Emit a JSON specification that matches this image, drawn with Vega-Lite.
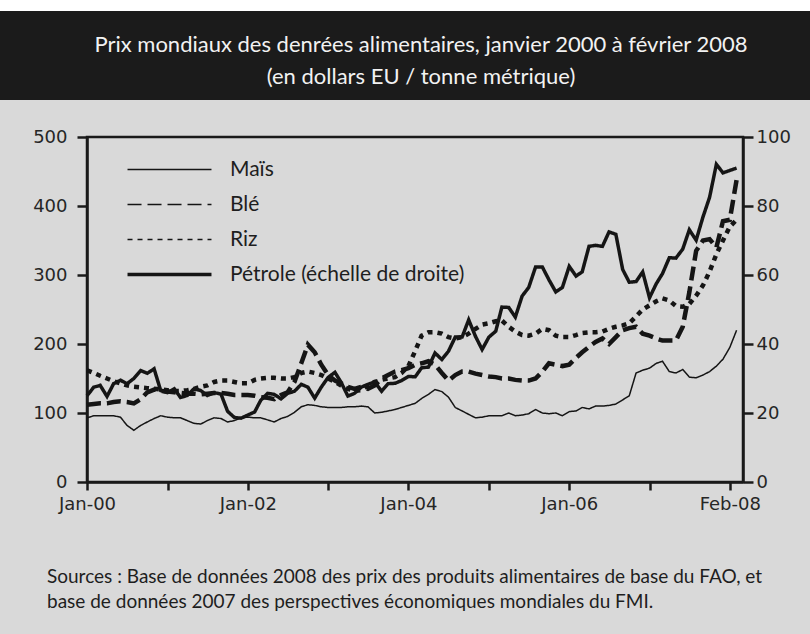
{
  "$schema": "https://vega.github.io/schema/vega-lite/v6.json",
  "background": "#d9d9d9",
  "padding": {"left": 0, "top": 0, "right": 0, "bottom": 22},
  "config": {
    "view": {"stroke": null},
    "font": "DejaVu Sans",
    "axis": {
      "domainColor": "#1a1a1a", "domainWidth": 2.5, "tickColor": "#1a1a1a", "tickWidth": 2.5,
      "labelFont": "DejaVu Sans", "labelFontSize": 18, "labelColor": "#262626", "grid": false
    }
  },
  "spacing": 26,
  "vconcat": [
    {
      "spacing": 0,
      "vconcat": [
        {"width": 810, "height": 11, "view": {"fill": "white", "stroke": null}, "data": {"values": []}, "mark": "point", "encoding": {}},
        {
          "width": 810, "height": 89,
          "view": {"fill": "#1b1b1b", "stroke": null},
          "data": {"values": [{}]},
          "mark": {"type": "text", "font": "Lato", "fontSize": 22, "lineHeight": 32, "color": "#f2f2f2", "baseline": "middle", "align": "center", "dy": -11, "dx": 16},
          "encoding": {"text": {"value": ["Prix mondiaux des denrées alimentaires, janvier 2000 à février 2008", "(en dollars EU / tonne métrique)"]}}
        }
      ]
    },
    {
      "spacing": 0,
      "hconcat": [
        {"width": 24, "height": 10, "data": {"values": []}, "mark": "point", "encoding": {}},
        {
          "width": 656, "height": 345,
          "view": {"stroke": "#1a1a1a", "strokeWidth": 2.5},
          "title": {
            "text": ["Sources : Base de données 2008 des prix des produits alimentaires de base du FAO, et", "base de données 2007 des perspectives économiques mondiales du FMI."],
            "orient": "bottom", "anchor": "start", "frame": "bounds", "offset": 55, "dx": 21,
            "font": "Lato", "fontSize": 19, "fontWeight": "normal", "lineHeight": 25, "color": "#1e1e1e", "baseline": "top"
          },
          "data": {"values": [
            {"mois":"2000-01","Maïs":93,"Blé":112,"Riz":162,"Pétrole":25.0},
            {"mois":"2000-02","Maïs":96,"Blé":113,"Riz":158,"Pétrole":27.5},
            {"mois":"2000-03","Maïs":96,"Blé":114,"Riz":154,"Pétrole":28.0},
            {"mois":"2000-04","Maïs":96,"Blé":114,"Riz":150,"Pétrole":24.8},
            {"mois":"2000-05","Maïs":96,"Blé":116,"Riz":146,"Pétrole":28.5},
            {"mois":"2000-06","Maïs":94,"Blé":117,"Riz":143,"Pétrole":29.5},
            {"mois":"2000-07","Maïs":82,"Blé":116,"Riz":140,"Pétrole":28.5},
            {"mois":"2000-08","Maïs":75,"Blé":114,"Riz":138,"Pétrole":30.0},
            {"mois":"2000-09","Maïs":82,"Blé":120,"Riz":137,"Pétrole":32.3},
            {"mois":"2000-10","Maïs":87,"Blé":130,"Riz":136,"Pétrole":31.5},
            {"mois":"2000-11","Maïs":92,"Blé":134,"Riz":135,"Pétrole":32.8},
            {"mois":"2000-12","Maïs":96,"Blé":132,"Riz":134,"Pétrole":26.5},
            {"mois":"2001-01","Maïs":94,"Blé":131,"Riz":133,"Pétrole":25.9},
            {"mois":"2001-02","Maïs":93,"Blé":130,"Riz":132,"Pétrole":27.0},
            {"mois":"2001-03","Maïs":93,"Blé":129,"Riz":132,"Pétrole":24.5},
            {"mois":"2001-04","Maïs":89,"Blé":128,"Riz":133,"Pétrole":25.1},
            {"mois":"2001-05","Maïs":85,"Blé":128,"Riz":135,"Pétrole":27.0},
            {"mois":"2001-06","Maïs":84,"Blé":127,"Riz":138,"Pétrole":26.5},
            {"mois":"2001-07","Maïs":89,"Blé":128,"Riz":140,"Pétrole":25.1},
            {"mois":"2001-08","Maïs":93,"Blé":129,"Riz":145,"Pétrole":25.9},
            {"mois":"2001-09","Maïs":92,"Blé":129,"Riz":147,"Pétrole":25.5},
            {"mois":"2001-10","Maïs":87,"Blé":128,"Riz":147,"Pétrole":20.5},
            {"mois":"2001-11","Maïs":89,"Blé":126,"Riz":145,"Pétrole":18.7},
            {"mois":"2001-12","Maïs":93,"Blé":126,"Riz":143,"Pétrole":18.5},
            {"mois":"2002-01","Maïs":94,"Blé":126,"Riz":143,"Pétrole":19.4},
            {"mois":"2002-02","Maïs":93,"Blé":125,"Riz":148,"Pétrole":20.3},
            {"mois":"2002-03","Maïs":93,"Blé":123,"Riz":150,"Pétrole":23.7},
            {"mois":"2002-04","Maïs":90,"Blé":122,"Riz":151,"Pétrole":25.7},
            {"mois":"2002-05","Maïs":87,"Blé":120,"Riz":151,"Pétrole":25.4},
            {"mois":"2002-06","Maïs":92,"Blé":126,"Riz":150,"Pétrole":24.1},
            {"mois":"2002-07","Maïs":95,"Blé":130,"Riz":150,"Pétrole":25.7},
            {"mois":"2002-08","Maïs":101,"Blé":145,"Riz":152,"Pétrole":26.3},
            {"mois":"2002-09","Maïs":109,"Blé":172,"Riz":158,"Pétrole":28.3},
            {"mois":"2002-10","Maïs":112,"Blé":199,"Riz":160,"Pétrole":27.5},
            {"mois":"2002-11","Maïs":111,"Blé":188,"Riz":158,"Pétrole":24.3},
            {"mois":"2002-12","Maïs":109,"Blé":170,"Riz":155,"Pétrole":27.5},
            {"mois":"2003-01","Maïs":108,"Blé":155,"Riz":150,"Pétrole":30.3},
            {"mois":"2003-02","Maïs":108,"Blé":147,"Riz":145,"Pétrole":31.8},
            {"mois":"2003-03","Maïs":108,"Blé":143,"Riz":140,"Pétrole":28.9},
            {"mois":"2003-04","Maïs":109,"Blé":138,"Riz":135,"Pétrole":24.9},
            {"mois":"2003-05","Maïs":109,"Blé":135,"Riz":132,"Pétrole":25.7},
            {"mois":"2003-06","Maïs":110,"Blé":138,"Riz":133,"Pétrole":27.5},
            {"mois":"2003-07","Maïs":109,"Blé":135,"Riz":140,"Pétrole":28.3},
            {"mois":"2003-08","Maïs":100,"Blé":140,"Riz":145,"Pétrole":29.0},
            {"mois":"2003-09","Maïs":101,"Blé":150,"Riz":148,"Pétrole":26.3},
            {"mois":"2003-10","Maïs":103,"Blé":155,"Riz":150,"Pétrole":28.5},
            {"mois":"2003-11","Maïs":105,"Blé":160,"Riz":152,"Pétrole":28.6},
            {"mois":"2003-12","Maïs":108,"Blé":162,"Riz":158,"Pétrole":29.4},
            {"mois":"2004-01","Maïs":111,"Blé":165,"Riz":168,"Pétrole":30.6},
            {"mois":"2004-02","Maïs":114,"Blé":170,"Riz":190,"Pétrole":30.5},
            {"mois":"2004-03","Maïs":121,"Blé":172,"Riz":212,"Pétrole":33.1},
            {"mois":"2004-04","Maïs":127,"Blé":175,"Riz":217,"Pétrole":33.3},
            {"mois":"2004-05","Maïs":134,"Blé":170,"Riz":217,"Pétrole":37.4},
            {"mois":"2004-06","Maïs":131,"Blé":158,"Riz":215,"Pétrole":35.5},
            {"mois":"2004-07","Maïs":123,"Blé":147,"Riz":210,"Pétrole":37.9},
            {"mois":"2004-08","Maïs":108,"Blé":155,"Riz":208,"Pétrole":42.0},
            {"mois":"2004-09","Maïs":103,"Blé":160,"Riz":210,"Pétrole":42.0},
            {"mois":"2004-10","Maïs":98,"Blé":160,"Riz":215,"Pétrole":47.0},
            {"mois":"2004-11","Maïs":93,"Blé":157,"Riz":222,"Pétrole":42.2},
            {"mois":"2004-12","Maïs":94,"Blé":155,"Riz":228,"Pétrole":38.4},
            {"mois":"2005-01","Maïs":96,"Blé":153,"Riz":230,"Pétrole":42.0},
            {"mois":"2005-02","Maïs":96,"Blé":152,"Riz":233,"Pétrole":43.7},
            {"mois":"2005-03","Maïs":96,"Blé":150,"Riz":234,"Pétrole":50.7},
            {"mois":"2005-04","Maïs":100,"Blé":150,"Riz":225,"Pétrole":50.6},
            {"mois":"2005-05","Maïs":96,"Blé":148,"Riz":218,"Pétrole":47.8},
            {"mois":"2005-06","Maïs":97,"Blé":147,"Riz":213,"Pétrole":53.9},
            {"mois":"2005-07","Maïs":99,"Blé":147,"Riz":212,"Pétrole":56.4},
            {"mois":"2005-08","Maïs":105,"Blé":150,"Riz":215,"Pétrole":62.3},
            {"mois":"2005-09","Maïs":100,"Blé":160,"Riz":222,"Pétrole":62.3},
            {"mois":"2005-10","Maïs":99,"Blé":172,"Riz":220,"Pétrole":58.6},
            {"mois":"2005-11","Maïs":100,"Blé":170,"Riz":212,"Pétrole":55.1},
            {"mois":"2005-12","Maïs":96,"Blé":168,"Riz":210,"Pétrole":56.4},
            {"mois":"2006-01","Maïs":102,"Blé":170,"Riz":210,"Pétrole":62.5},
            {"mois":"2006-02","Maïs":103,"Blé":180,"Riz":213,"Pétrole":59.7},
            {"mois":"2006-03","Maïs":108,"Blé":188,"Riz":216,"Pétrole":60.9},
            {"mois":"2006-04","Maïs":106,"Blé":196,"Riz":217,"Pétrole":68.3},
            {"mois":"2006-05","Maïs":110,"Blé":203,"Riz":217,"Pétrole":68.6},
            {"mois":"2006-06","Maïs":110,"Blé":208,"Riz":218,"Pétrole":68.3},
            {"mois":"2006-07","Maïs":111,"Blé":200,"Riz":222,"Pétrole":72.5},
            {"mois":"2006-08","Maïs":113,"Blé":210,"Riz":225,"Pétrole":71.8},
            {"mois":"2006-09","Maïs":119,"Blé":220,"Riz":227,"Pétrole":61.6},
            {"mois":"2006-10","Maïs":125,"Blé":223,"Riz":230,"Pétrole":57.9},
            {"mois":"2006-11","Maïs":158,"Blé":225,"Riz":240,"Pétrole":58.1},
            {"mois":"2006-12","Maïs":162,"Blé":215,"Riz":250,"Pétrole":60.9},
            {"mois":"2007-01","Maïs":165,"Blé":212,"Riz":256,"Pétrole":53.4},
            {"mois":"2007-02","Maïs":172,"Blé":208,"Riz":262,"Pétrole":57.5},
            {"mois":"2007-03","Maïs":175,"Blé":205,"Riz":266,"Pétrole":60.4},
            {"mois":"2007-04","Maïs":160,"Blé":205,"Riz":263,"Pétrole":65.0},
            {"mois":"2007-05","Maïs":158,"Blé":205,"Riz":255,"Pétrole":64.9},
            {"mois":"2007-06","Maïs":163,"Blé":225,"Riz":254,"Pétrole":67.5},
            {"mois":"2007-07","Maïs":152,"Blé":275,"Riz":258,"Pétrole":73.1},
            {"mois":"2007-08","Maïs":151,"Blé":335,"Riz":270,"Pétrole":70.1},
            {"mois":"2007-09","Maïs":155,"Blé":350,"Riz":285,"Pétrole":76.8},
            {"mois":"2007-10","Maïs":160,"Blé":352,"Riz":305,"Pétrole":82.5},
            {"mois":"2007-11","Maïs":168,"Blé":340,"Riz":330,"Pétrole":92.1},
            {"mois":"2007-12","Maïs":178,"Blé":378,"Riz":350,"Pétrole":89.6},
            {"mois":"2008-01","Maïs":195,"Blé":380,"Riz":370,"Pétrole":90.3},
            {"mois":"2008-02","Maïs":220,"Blé":438,"Riz":380,"Pétrole":91.0}
          ]},
          "encoding": {
            "x": {
              "field": "mois", "type": "temporal",
              "scale": {"type": "utc", "domain": [{"year": 2000, "month": "jan", "date": 1, "utc": true}, {"year": 2008, "month": "mar", "date": 1, "utc": true}]},
              "axis": {
                "title": null,
                "values": [
                  {"year": 2000, "month": "jan", "date": 1, "utc": true},
                  {"year": 2001, "month": "jan", "date": 1, "utc": true},
                  {"year": 2002, "month": "jan", "date": 1, "utc": true},
                  {"year": 2003, "month": "jan", "date": 1, "utc": true},
                  {"year": 2004, "month": "jan", "date": 1, "utc": true},
                  {"year": 2005, "month": "jan", "date": 1, "utc": true},
                  {"year": 2006, "month": "jan", "date": 1, "utc": true},
                  {"year": 2007, "month": "jan", "date": 1, "utc": true},
                  {"year": 2008, "month": "jan", "date": 1, "utc": true}
                ],
                "labelExpr": "utcyear(datum.value) === 2008 ? 'Feb-08' : (utcyear(datum.value) % 2 === 0 ? 'Jan-' + utcFormat(datum.value, '%y') : '')",
                "tickSize": 8, "labelPadding": 5, "labelFlush": false, "labelOverlap": false
              }
            }
          },
          "layer": [
            {
              "encoding": {
                "y": {
                  "field": "valeur", "type": "quantitative",
                  "scale": {"domain": [0, 500]},
                  "axis": {"title": null, "values": [0, 100, 200, 300, 400, 500], "tickSize": 10, "labelPadding": 10, "labelFlush": false, "minExtent": 61}
                }
              },
              "layer": [
                {
                  "transform": [{"fold": ["Maïs"], "as": ["serie", "valeur"]}],
                  "mark": {"type": "line", "color": "#151515", "strokeWidth": 1.5},
                  "encoding": {
                    "strokeDash": {
                      "field": "serie", "type": "nominal",
                      "scale": {"domain": ["Maïs", "Blé", "Riz", "Pétrole"], "range": [[1, 0], [14, 6], [5, 5], [1, 0]]},
                      "legend": {
                        "orient": "none", "legendX": 159, "legendY": 159, "title": null, "padding": 0,
                        "symbolType": "M-5,0H5", "symbolSize": 282, "symbolStrokeColor": "#151515",
                        "labelFont": "Lato", "labelFontSize": 21, "labelColor": "#1e1e1e", "labelLimit": 400,
                        "labelOffset": 50, "rowPadding": 13,
                        "labelExpr": "datum.label === 'Pétrole' ? 'Pétrole (échelle de droite)' : datum.label",
                        "encode": {"symbols": {"update": {"strokeWidth": {"signal": "datum.value === 'Pétrole' ? 3.5 : 1.5"}}}}
                      }
                    }
                  }
                },
                {
                  "transform": [{"fold": ["Blé"], "as": ["serie", "valeur"]}],
                  "mark": {"type": "line", "color": "#151515", "strokeWidth": 4.5},
                  "encoding": {"strokeDash": {"field": "serie", "type": "nominal"}}
                },
                {
                  "transform": [{"fold": ["Riz"], "as": ["serie", "valeur"]}],
                  "mark": {"type": "line", "color": "#151515", "strokeWidth": 4.5},
                  "encoding": {"strokeDash": {"field": "serie", "type": "nominal"}}
                }
              ]
            },
            {
              "transform": [{"fold": ["Pétrole"], "as": ["serie", "valeur"]}],
              "mark": {"type": "line", "color": "#151515", "strokeWidth": 3.5},
              "encoding": {
                "y": {
                  "field": "valeur", "type": "quantitative",
                  "scale": {"domain": [0, 100]},
                  "axis": {"title": null, "orient": "right", "values": [0, 20, 40, 60, 80, 100], "tickSize": 10, "labelPadding": 3, "labelFlush": false}
                },
                "strokeDash": {"field": "serie", "type": "nominal"}
              }
            }
          ],
          "resolve": {"scale": {"y": "independent"}}
        }
      ]
    }
  ]
}
